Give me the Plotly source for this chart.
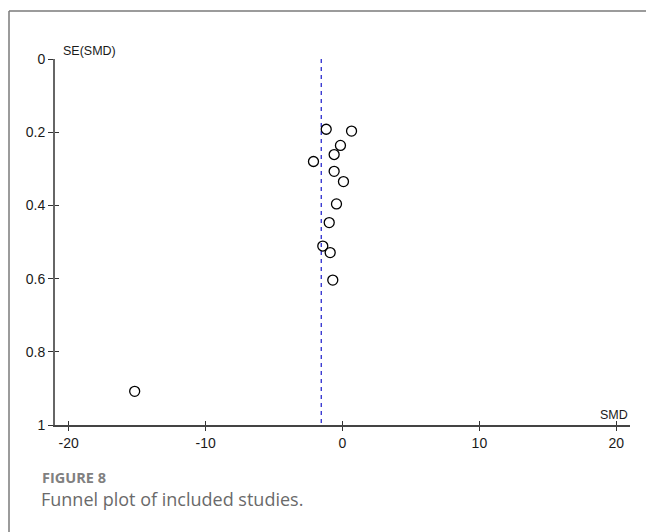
import plotly.graph_objects as go

# Study effect sizes (SMD) and standard errors (SE)
smd = [-1.19, 0.66, -0.15, -0.61, -2.12, -0.61, 0.07, -0.44, -0.97, -1.44, -0.90, -0.71, -15.18]
se = [0.192, 0.197, 0.236, 0.261, 0.280, 0.307, 0.335, 0.396, 0.447, 0.511, 0.529, 0.604, 0.908]
pooled_smd = -1.55
x_ticks = [-20, -10, 0, 10, 20]
x_tick_labels = ["-20", "-10", "0", "10", "20"]
y_ticks = [0, 0.2, 0.4, 0.6, 0.8, 1]
y_tick_labels = ["0", "0.2", "0.4", "0.6", "0.8", "1"]

W, H = 646, 532
L, R, T, B = 55, 16, 59, 107
pw, ph = W - L - R, H - T - B

def px_x(p):
    return (p - L) / pw

def px_y(p):
    return (H - B - p) / ph

fig = go.Figure()

fig.add_trace(go.Scatter(
    x=[pooled_smd, pooled_smd], y=[0, 1], mode="lines",
    line=dict(color="#3a3ad2", width=1.4, dash="4px,4px"),
    hoverinfo="skip", showlegend=False))

fig.add_trace(go.Scatter(
    x=smd, y=se, mode="markers",
    marker=dict(symbol="circle-open", size=10, color="black", line=dict(width=1.3, color="black")),
    showlegend=False))

# invisible trace on overlay axes for crossing ticks
fig.add_trace(go.Scatter(x=[0], y=[0.5], xaxis="x2", yaxis="y2", mode="markers",
                         marker=dict(opacity=0), hoverinfo="skip", showlegend=False))

tickfont = dict(family="Liberation Sans, Arial, sans-serif", size=14, color="#1a1a1a")
titlefont = dict(family="Liberation Sans, Arial, sans-serif", size=12.5, color="#1a1a1a")

fig.update_layout(
    width=W, height=H,
    margin=dict(l=L, r=R, t=T, b=B),
    paper_bgcolor="white", plot_bgcolor="white",
    xaxis=dict(range=[-21, 21], tickvals=x_ticks, ticktext=x_tick_labels, ticks="outside",
               ticklen=4, tickcolor="#333333", tickwidth=1.3, showline=True,
               linecolor="#444444", linewidth=1.5, showgrid=False, zeroline=False,
               tickfont=tickfont),
    yaxis=dict(range=[1, 0], tickvals=y_ticks, ticktext=y_tick_labels, ticks="outside",
               ticklen=5, tickcolor="#333333", tickwidth=1.3, showline=True,
               linecolor="#666666", linewidth=2, showgrid=False, zeroline=False,
               tickfont=tickfont),
    xaxis2=dict(range=[-21, 21], tickvals=x_ticks, ticks="inside", ticklen=4,
                tickcolor="#333333", tickwidth=1.3, showline=False, showgrid=False,
                zeroline=False, showticklabels=False, overlaying="x", anchor="y2", side="bottom"),
    yaxis2=dict(range=[1, 0], tickvals=y_ticks, ticks="inside", ticklen=4,
                tickcolor="#333333", tickwidth=1.3, showline=False, showgrid=False,
                zeroline=False, showticklabels=False, overlaying="y", anchor="x2", side="left"),
)

fig.add_annotation(text="SE(SMD)", x=px_x(61), y=1, xref="paper", yref="paper",
                   xanchor="left", yanchor="bottom", yshift=-1, showarrow=False,
                   font=titlefont)
fig.add_annotation(text="SMD", x=1, y=0, xref="paper", yref="paper",
                   xanchor="right", yanchor="bottom", yshift=1, showarrow=False,
                   font=titlefont)

fig.add_annotation(text="<b>FIGURE 8</b>", x=px_x(40), y=px_y(477), xref="paper", yref="paper",
                   xanchor="left", yanchor="middle", showarrow=False,
                   font=dict(family="Open Sans, sans-serif", size=14.5, color="#808080"))
fig.add_annotation(text="Funnel plot of included studies.", x=px_x(39), y=px_y(499),
                   xref="paper", yref="paper", xanchor="left", yanchor="middle",
                   showarrow=False,
                   font=dict(family="Open Sans, sans-serif", size=18, color="#6a6a6a"))

# frame lines
fig.add_shape(type="line", xref="paper", yref="paper", x0=px_x(9), x1=px_x(W + 2),
              y0=px_y(11), y1=px_y(11), line=dict(color="#7a7a7a", width=1.5))
fig.add_shape(type="line", xref="paper", yref="paper", x0=px_x(9), x1=px_x(9),
              y0=px_y(11), y1=px_y(H + 2), line=dict(color="#7a7a7a", width=1.5))

fig.write_html("out.html")
